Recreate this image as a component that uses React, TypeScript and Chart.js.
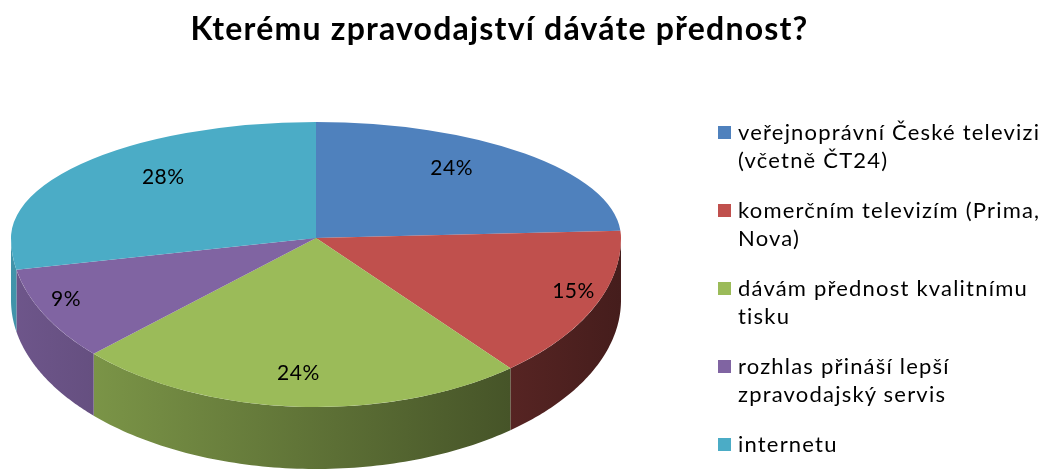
import React, { useEffect, useRef } from 'react';
import { Chart, registerables } from 'chart.js';

Chart.register(...registerables);

const TITLE = 'Kterému zpravodajství dáváte přednost?';
const categories = [
  'veřejnoprávní České televizi (včetně ČT24)',
  'komerčním televizím (Prima, Nova)',
  'dávám přednost kvalitnímu tisku',
  'rozhlas přináší lepší zpravodajský servis',
  'internetu',
];
const shares = [24, 15, 24, 9, 28];
const colors = ['#4F81BD', '#C0504D', '#9BBB59', '#8064A2', '#4BACC6'];

// 3D geometry of the projected pie
const CX = 316;
const CY = 238;
const RX = 305;
const RY_TOP = 116;
const RY_BOT = 169;
const DEPTH = 62;

function shade(hex: string, f: number): string {
  const n = parseInt(hex.slice(1), 16);
  const r = Math.round(((n >> 16) & 255) * f);
  const g = Math.round(((n >> 8) & 255) * f);
  const b = Math.round((n & 255) * f);
  return `rgb(${r},${g},${b})`;
}

const spacing = {
  id: 'spacing',
  beforeDraw(chart: any) {
    (chart.ctx as any).letterSpacing = '1.2px';
  },
  beforeDatasetsDraw(chart: any) {
    (chart.ctx as any).letterSpacing = '0px';
  },
};

const pie3d = {
  id: 'pie3d',
  beforeDatasetsDraw(chart: any) {
    const ctx: CanvasRenderingContext2D = chart.ctx;
    (ctx as any).letterSpacing = '0px';
    const meta = chart.getDatasetMeta(0);
    const arcs = meta.data;
    if (!arcs.length) return false;
    const p0 = arcs[0].getProps(['x', 'y', 'outerRadius'], true);
    const s = RX / p0.outerRadius;
    const kTop = RY_TOP / RX;
    const kBot = RY_BOT / RX;
    const W = chart.width;
    const H = chart.height;

    // front sides
    arcs.forEach((arc: any, i: number) => {
      const p = arc.getProps(['startAngle', 'endAngle'], true);
      const segs: [number, number][] = [];
      for (const off of [0, 2 * Math.PI, -2 * Math.PI]) {
        const a1 = Math.max(p.startAngle + off, 0);
        const a2 = Math.min(p.endAngle + off, Math.PI);
        if (a2 > a1) segs.push([a1, a2]);
      }
      segs.forEach(([a1, a2]) => {
        const g = ctx.createLinearGradient(CX - RX, 0, CX + RX, 0);
        g.addColorStop(0, shade(colors[i], 0.86));
        g.addColorStop(1, shade(colors[i], 0.36));
        ctx.beginPath();
        const n = 80;
        for (let k = 0; k <= n; k++) {
          const t = a1 + ((a2 - a1) * k) / n;
          const x = CX + RX * Math.cos(t);
          const y = CY + RY_BOT * Math.sin(t);
          if (k === 0) ctx.moveTo(x, y);
          else ctx.lineTo(x, y);
        }
        for (let k = n; k >= 0; k--) {
          const t = a1 + ((a2 - a1) * k) / n;
          ctx.lineTo(CX + RX * Math.cos(t), CY + RY_BOT * Math.sin(t) + DEPTH);
        }
        ctx.closePath();
        ctx.fillStyle = g;
        ctx.fill();
      });
    });

    // top faces, drawn by the arc elements themselves
    const halves: [number, number, number][] = [
      [0, CY + 1, kTop],
      [CY, H - CY, kBot],
    ];
    halves.forEach(([top, h, k]) => {
      ctx.save();
      ctx.beginPath();
      ctx.rect(0, top, W, h);
      ctx.clip();
      ctx.translate(CX, CY);
      ctx.scale(s, s * k);
      ctx.translate(-p0.x, -p0.y);
      arcs.forEach((arc: any) => arc.draw(ctx));
      ctx.restore();
    });

    // percentage labels
    ctx.save();
    ctx.font = '21px Lato';
    ctx.fillStyle = '#000';
    ctx.textAlign = 'center';
    ctx.textBaseline = 'middle';
    (ctx as any).letterSpacing = '0.5px';
    arcs.forEach((arc: any, i: number) => {
      const p = arc.getProps(['startAngle', 'endAngle'], true);
      const mid = (p.startAngle + p.endAngle) / 2;
      const sn = Math.sin(mid);
      const top = sn < 0;
      const fx = top ? 0.65 : 0.92;
      const fy = top ? 0.82 : 0.8;
      const x = CX + RX * fx * Math.cos(mid);
      const y = CY + (top ? RY_TOP : RY_BOT) * fy * sn;
      ctx.fillText(`${shares[i]}%`, x, y);
    });
    ctx.restore();
    return false;
  },
};

export default function App() {
  const ref = useRef<HTMLCanvasElement | null>(null);

  useEffect(() => {
    document.body.style.margin = '0';
    if (!ref.current) return;
    const chart = new Chart(ref.current, {
      type: 'pie',
      data: {
        labels: categories,
        datasets: [
          {
            data: shares,
            backgroundColor: colors,
            borderWidth: 0,
          },
        ],
      },
      options: {
        responsive: true,
        maintainAspectRatio: false,
        animation: false,
        layout: { padding: { right: 52 } },
        plugins: {
          legend: { display: false },
          tooltip: { enabled: false },
          title: {
            display: true,
            text: TITLE,
            color: '#000',
            font: { family: 'Lato', size: 32, weight: 'bold' },
            padding: { top: 10, bottom: 10 },
          },
        },
      },
      plugins: [spacing, pie3d],
    });
    return () => chart.destroy();
  }, []);

  return (
    <div style={{ position: 'relative', width: 1051, height: 474, background: '#fff', overflow: 'hidden' }}>
      <canvas ref={ref} />
      <div
        style={{
          position: 'absolute',
          left: 718,
          top: 118,
          width: 330,
          fontFamily: 'Lato, sans-serif',
          fontSize: 22,
          letterSpacing: '1.2px',
          lineHeight: '28px',
          color: '#000',
        }}
      >
        {categories.map((c, i) => (
          <div key={c} style={{ display: 'flex', alignItems: 'flex-start', marginBottom: 22 }}>
            <span
              style={{
                flex: '0 0 13px',
                width: 13,
                height: 13,
                background: colors[i],
                marginTop: 8,
                marginRight: 7,
              }}
            />
            <span style={{ width: 308 }}>{c}</span>
          </div>
        ))}
      </div>
    </div>
  );
}
